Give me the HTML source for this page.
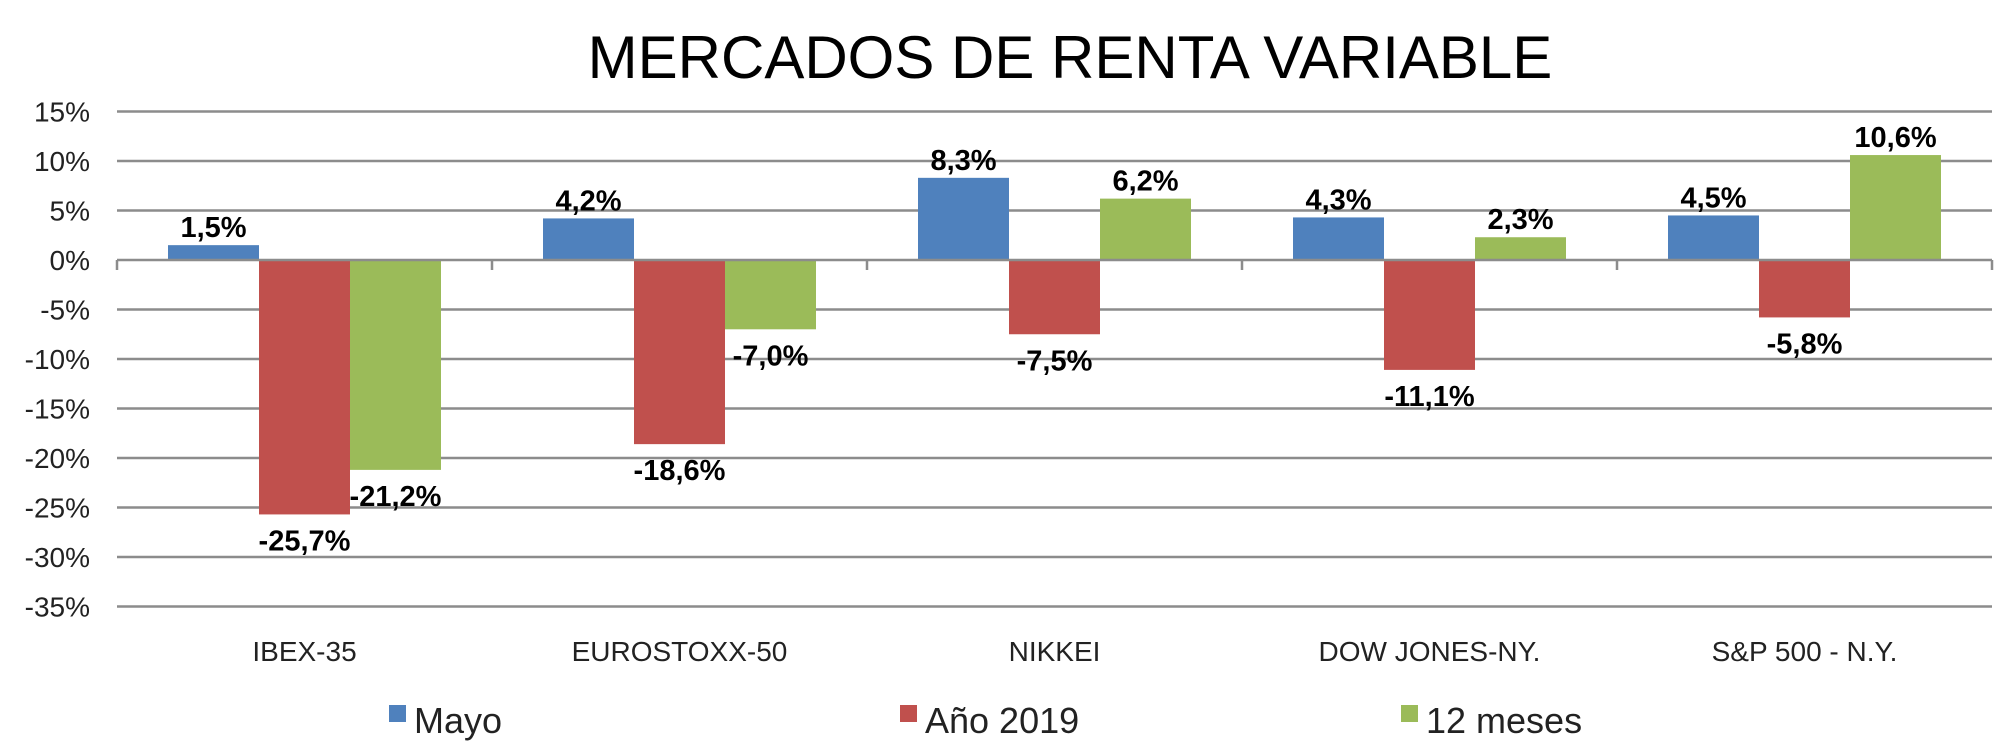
<!DOCTYPE html>
<html><head><meta charset="utf-8"><style>
html,body{margin:0;padding:0;background:#fff;}
svg{display:block;font-family:"Liberation Sans","DejaVu Sans",sans-serif;}
</style></head><body>
<svg id="chart" width="2000" height="748">
<text x="1070" y="78" text-anchor="middle" font-size="60" fill="#000">MERCADOS DE RENTA VARIABLE</text>
<g id="grid"></g><g id="bars"></g><g id="labels"></g><g id="axis"></g><g id="legend"></g>
</svg>
<script>
const categories=["IBEX-35","EUROSTOXX-50","NIKKEI","DOW JONES-NY.","S&P 500 - N.Y."];
const seriesNames=["Mayo","Año 2019","12 meses"];
const mayo=[1.5,4.2,8.3,4.3,4.5];
const anio2019=[-25.7,-18.6,-7.5,-11.1,-5.8];
const doceMeses=[-21.2,-7.0,6.2,2.3,10.6];
const yTicks=[15,10,5,0,-5,-10,-15,-20,-25,-30,-35];
const colors=["#4f81bd","#c0504d","#9bbb59"];
const NS="http://www.w3.org/2000/svg";
const plotLeft=117,catW=375,plotTop=111.7,zeroY=260,per=9.9,barW=91;
function yScale(v){return zeroY-v*per;}
function xc(i){return plotLeft+catW*(i+0.5);}
function el(tag,attrs,parent){const e=document.createElementNS(NS,tag);for(const k in attrs)e.setAttribute(k,attrs[k]);parent.appendChild(e);return e;}
const grid=document.getElementById('grid'),bars=document.getElementById('bars'),labels=document.getElementById('labels'),axis=document.getElementById('axis'),legend=document.getElementById('legend');
yTicks.forEach(t=>{
  if(t!==0){const l=el('line',{x1:plotLeft,x2:plotLeft+5*catW,y1:yScale(t),y2:yScale(t),stroke:'#8c8c8c','stroke-width':2.5},grid);
  
  }
  const tx=el('text',{x:90,y:yScale(t)+10,'text-anchor':'end','font-size':28,fill:'#222'},axis);
  tx.textContent=t+'%';
  
  
});
const series=[mayo,anio2019,doceMeses];
series.forEach((s,si)=>{
  s.forEach((v,i)=>{
    const x0=xc(i)-1.5*barW+si*barW;
    const r=el('rect',{x:x0,y:Math.min(yScale(v),zeroY),width:barW,height:Math.abs(yScale(v)-zeroY),fill:colors[si]},bars);
    
    
    const ly=v>=0?yScale(v)-8:yScale(v)+36;
    const t=el('text',{x:x0+barW/2,y:ly,'text-anchor':'middle','font-size':29,'font-weight':'bold',fill:'#000'},labels);
    t.textContent=v.toFixed(1).replace('.',',')+'%';
    
    
  });
});
const ax=el('line',{x1:plotLeft,x2:plotLeft+5*catW,y1:zeroY,y2:zeroY,stroke:'#8c8c8c','stroke-width':2.5},axis);


for(let i=0;i<=5;i++){const tk=el('line',{x1:plotLeft+i*catW,x2:plotLeft+i*catW,y1:zeroY,y2:zeroY+10,stroke:'#8c8c8c','stroke-width':2.5},axis);

}
categories.forEach((c,i)=>{const t=el('text',{x:xc(i),y:661,'text-anchor':'middle','font-size':28,fill:'#222'},axis);
t.textContent=c;

});
const legX=[389,900,1401];
seriesNames.forEach((n,i)=>{
  const g=el('g',{},legend);
  
  
  el('rect',{x:legX[i],y:705,width:17,height:17,fill:colors[i]},g);
  const t=el('text',{x:legX[i]+25,y:733,'font-size':36,fill:'#222'},g);
  t.textContent=n;
});
</script>
</body></html>
